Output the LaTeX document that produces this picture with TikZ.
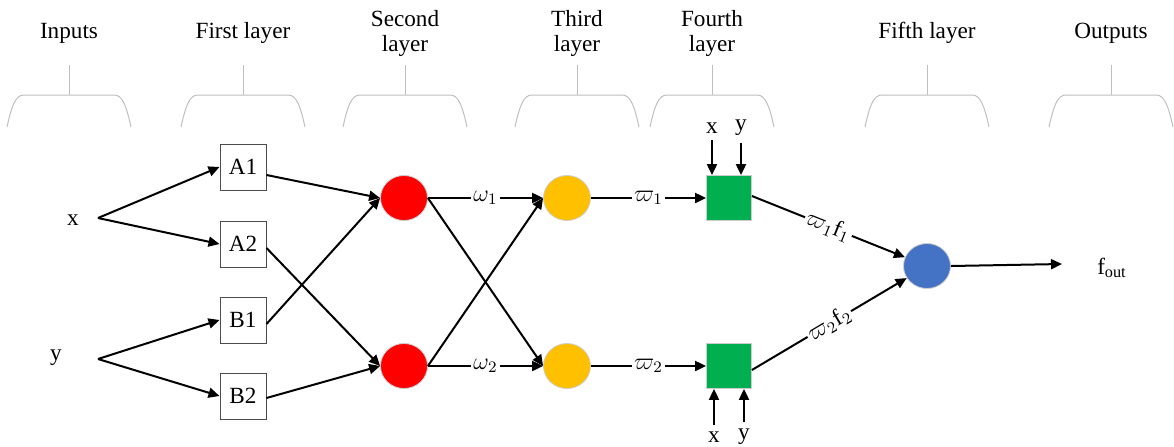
\documentclass[tikz,border=0pt]{standalone}
\usepackage{fontspec}
\setmainfont{Liberation Serif}
\usetikzlibrary{arrows.meta,shapes.geometric}

\definecolor{rulered}{RGB}{255,0,0}
\definecolor{normorange}{RGB}{255,192,0}
\definecolor{defgreen}{RGB}{0,176,80}
\definecolor{sumblue}{RGB}{68,114,196}

\tikzset{
	mfbox/.style={draw=black!70,line width=0.5pt,minimum size=23pt,inner sep=0pt},
	neuron/.style={ellipse,draw=black!20,line width=0.4pt,minimum width=23.5pt,minimum height=22.5pt,inner sep=0pt},
	defbox/.style={draw=black!20,line width=0.4pt,fill=defgreen,minimum size=22.5pt,inner sep=0pt},
	brace/.style={draw=black!25,line width=0.5pt},
	lbl/.style={fill=white,inner sep=1pt},
	link/.style={->,line width=1pt}
}

\begin{document}
\begin{tikzpicture}[x=0.5pt,y=-0.5pt,font=\fontsize{11.6}{12.5}\selectfont,
	>={Triangle[length=5.5pt,width=5pt]}]

\useasboundingbox (0,0) rectangle (1174,446);

% Layer headings and braces:
\foreach \x/\t [count=\i] in {69/Inputs,243/First layer,405/Second\\layer,577/Third\\layer,712/Fourth\\layer,927/Fifth layer,1111/Outputs} {
	\node[align=center] (h\i) at (\x,33) {\t};
	\draw[brace] (\x,65) -- (\x,95);
	\draw[brace] (\x-62,127) .. controls (\x-57,104) and (\x-53,95) .. (\x-45,95) -- (\x+45,95) .. controls (\x+53,95) and (\x+57,104) .. (\x+62,127);
}

\node (X) at (73,220) {x};
\node (Y) at (56,358) {y};
\coordinate (xs) at (98,218);
\coordinate (ys) at (98,359);

\node[mfbox] (A1) at (243,167) {A1};
\node[mfbox] (A2) at (243,244) {A2};
\node[mfbox] (B1) at (243,320) {B1};
\node[mfbox] (B2) at (243,396) {B2};

\node[neuron,fill=rulered] (R1) at (404,198) {};
\node[neuron,fill=rulered] (R2) at (404,366) {};
\node[neuron,fill=normorange] (N1) at (567,198) {};
\node[neuron,fill=normorange] (N2) at (567,366) {};
\node[defbox] (D1) at (729,198) {};
\node[defbox] (D2) at (729,366) {};
\node[neuron,fill=sumblue] (S) at (927,266) {};

\node (fout) at (1112,268) {f\textsubscript{out}};
\coordinate (oe) at (1062,264);

\draw[link] (xs) -- (A1.west);
\draw[link] (xs) -- (A2.west);
\draw[link] (ys) -- (B1.west);
\draw[link] (ys) -- (B2.west);

\draw[link] ([yshift=-4pt]A1.east) -- (R1.west);
\draw[link] ([yshift=-2pt]B1.east) -- (R1.west);
\draw[link] ([yshift=-2pt]A2.east) -- (R2.west);
\draw[link] ([yshift=-1pt]B2.east) -- (R2.west);

\draw[link] (R1.east) -- node[lbl] {$\omega_1$} (N1.west);
\draw[link] (R1.east) -- (N2.west);
\draw[link] (R2.east) -- (N1.west);
\draw[link] (R2.east) -- node[lbl] {$\omega_2$} (N2.west);

\draw[link] (N1.east) -- node[lbl] {$\varpi_1$} (D1.west);
\draw[link] (N2.east) -- node[lbl] {$\varpi_2$} (D2.west);

\draw[link] ([yshift=1pt]D1.east) -- node[lbl,sloped] {$\varpi_1\mathrm{f}_1$} (S);
\draw[link] ([yshift=-2pt]D2.east) -- node[lbl,sloped] {$\varpi_2\mathrm{f}_2$} (S);
\draw[link] (S.east) -- (oe);

% x and y into the fourth layer:
\node (tx) at (712,128) {x};
\node (ty) at (741,128) {y};
\node (bx) at (714,437) {x};
\node (by) at (744,437) {y};
\draw[link] (tx.south) -- (tx.south |- D1.north);
\draw[link] (ty.south) -- (ty.south |- D1.north);
\draw[link] (bx.north) -- (bx.north |- D2.south);
\draw[link] (by.north) -- (by.north |- D2.south);

\end{tikzpicture}
\end{document}
